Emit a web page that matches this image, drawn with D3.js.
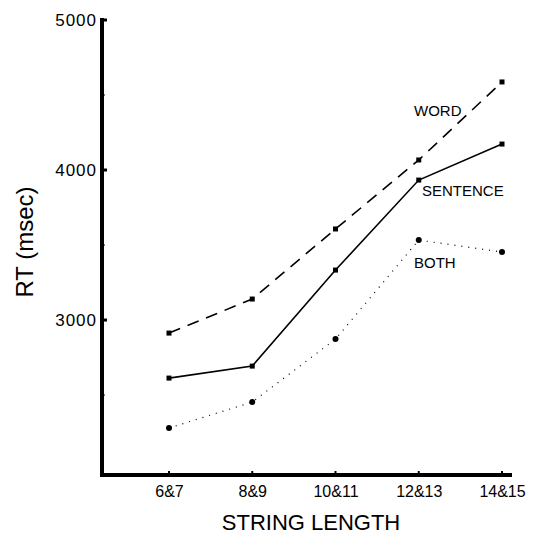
<!DOCTYPE html>
<html>
<head>
<meta charset="utf-8">
<script src="https://cdn.jsdelivr.net/npm/d3@7"></script>
<style>
  body { margin: 0; background: #fff; }
  svg text { font-family: "Liberation Sans", Arial, sans-serif; fill: #000; }
</style>
</head>
<body>
<div id="chart"></div>
<script>
// data
const categories = ['6&7', '8&9', '10&11', '12&13', '14&15'];
const wordRT = [2913, 3140, 3607, 4067, 4587];
const sentenceRT = [2613, 2693, 3333, 3933, 4173];
const bothRT = [2280, 2453, 2873, 3533, 3453];
const yTicks = [3000, 4000, 5000];
const yMinorTicks = [2500, 3500, 4500];

const width = 537;
const height = 549;

const svg = d3.select('#chart')
  .append('svg')
  .attr('width', width)
  .attr('height', height);

const x = d3.scalePoint().domain(categories).range([169, 502]);
const y = d3.scaleLinear().domain([1967, 5000]).range([475, 20]);

const axisX0 = 102;
const axisY0 = y(1967);

// y axis
const yAxis = d3.axisLeft(y)
  .tickValues(yTicks)
  .tickFormat(d3.format('d'))
  .tickSize(0)
  .tickPadding(5);
const gy = svg.append('g')
  .attr('transform', `translate(${axisX0},0)`)
  .call(yAxis);
gy.select('.domain').remove();
gy.selectAll('text')
  .style('font-size', '17px')
  .style('letter-spacing', '1px')
  .style('font-family', '"Liberation Sans", Arial, sans-serif');

svg.append('line')
  .attr('x1', axisX0).attr('x2', axisX0)
  .attr('y1', y(5000) - 2).attr('y2', axisY0 + 1.5)
  .attr('stroke', '#000').attr('stroke-width', 4);

svg.selectAll('.ytick-major')
  .data(yTicks)
  .enter()
  .append('line')
  .attr('class', 'ytick-major')
  .attr('x1', axisX0).attr('x2', axisX0 + 5)
  .attr('y1', d => y(d)).attr('y2', d => y(d))
  .attr('stroke', '#000').attr('stroke-width', 3);

svg.selectAll('.ytick-minor')
  .data(yMinorTicks)
  .enter()
  .append('line')
  .attr('class', 'ytick-minor')
  .attr('x1', axisX0).attr('x2', axisX0 + 3)
  .attr('y1', d => y(d)).attr('y2', d => y(d))
  .attr('stroke', '#000').attr('stroke-width', 1);

// x axis
svg.append('line')
  .attr('x1', axisX0 - 2).attr('x2', 512)
  .attr('y1', axisY0).attr('y2', axisY0)
  .attr('stroke', '#000').attr('stroke-width', 4);

const xAxis = d3.axisBottom(x).tickSize(0).tickPadding(11);
const gx = svg.append('g')
  .attr('transform', `translate(0,${axisY0})`)
  .call(xAxis);
gx.select('.domain').remove();
gx.selectAll('text')
  .style('font-size', '16px')
  .style('font-family', '"Liberation Sans", Arial, sans-serif');

svg.selectAll('.xtick')
  .data(categories)
  .enter()
  .append('line')
  .attr('class', 'xtick')
  .attr('x1', d => x(d)).attr('x2', d => x(d))
  .attr('y1', axisY0).attr('y2', axisY0 - 4)
  .attr('stroke', '#000').attr('stroke-width', 2);

// axis titles
svg.append('text')
  .attr('x', 311)
  .attr('y', 530)
  .attr('text-anchor', 'middle')
  .style('font-size', '22px')
  .text('STRING LENGTH');

svg.append('text')
  .attr('transform', 'translate(33,242) rotate(-90)')
  .attr('text-anchor', 'middle')
  .style('font-size', '24px')
  .text('RT (msec)');

// series
const series = [
  { name: 'WORD', values: wordRT, dash: '12,8', marker: 'square' },
  { name: 'SENTENCE', values: sentenceRT, dash: null, marker: 'square' },
  { name: 'BOTH', values: bothRT, dash: '1,6', marker: 'circle' }
];

const line = d3.line()
  .x((d, i) => x(categories[i]))
  .y(d => y(d));

series.forEach(s => {
  const g = svg.append('g').attr('class', 'series');
  g.append('path')
    .datum(s.values)
    .attr('d', line)
    .attr('fill', 'none')
    .attr('stroke', '#000')
    .attr('stroke-width', s.dash === '1,6' ? 1.2 : 1.6)
    .attr('stroke-dasharray', s.dash);

  if (s.marker === 'square') {
    g.selectAll('rect')
      .data(s.values)
      .enter()
      .append('rect')
      .attr('x', (d, i) => x(categories[i]) - 2.5)
      .attr('y', d => y(d) - 2.5)
      .attr('width', 5)
      .attr('height', 5)
      .attr('fill', '#000');
  } else {
    g.selectAll('circle')
      .data(s.values)
      .enter()
      .append('circle')
      .attr('cx', (d, i) => x(categories[i]))
      .attr('cy', d => y(d))
      .attr('r', 3)
      .attr('fill', '#000');
  }
});

// series labels
svg.append('text').attr('x', 414).attr('y', 116)
  .style('font-size', '15px').text('WORD');
svg.append('text').attr('x', 422).attr('y', 196)
  .style('font-size', '15px').text('SENTENCE');
svg.append('text').attr('x', 414).attr('y', 268)
  .style('font-size', '15px').text('BOTH');
</script>
</body>
</html>
